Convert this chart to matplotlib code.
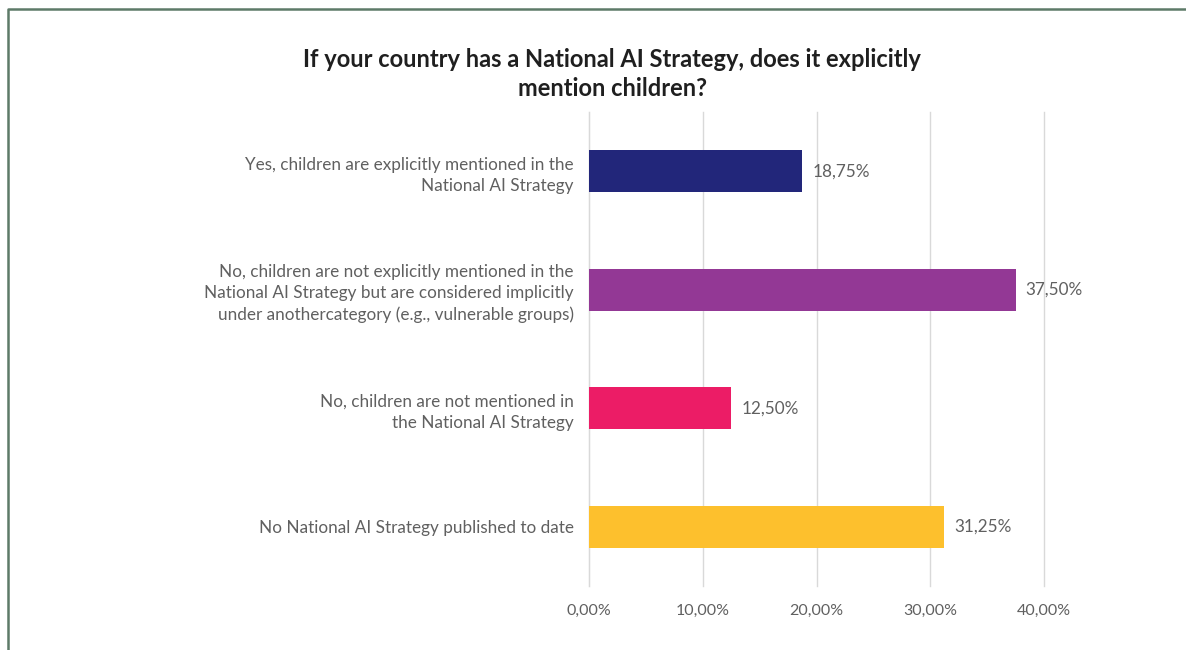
import matplotlib
matplotlib.use("Agg")
import matplotlib.pyplot as plt
from matplotlib.lines import Line2D

categories = [
    "Yes, children are explicitly mentioned in the\nNational AI Strategy",
    "No, children are not explicitly mentioned in the\nNational AI Strategy but are considered implicitly\nunder anothercategory (e.g., vulnerable groups)",
    "No, children are not mentioned in\nthe National AI Strategy",
    "No National AI Strategy published to date",
]
values = [18.75, 37.50, 12.50, 31.25]
colors = ["#22267a", "#933895", "#ec1c66", "#fdc02d"]
xticks = [0, 10, 20, 30, 40]
title = "If your country has a National AI Strategy, does it explicitly\nmention children?"

plt.rcParams["font.family"] = ["Lato", "DejaVu Sans"]

fig = plt.figure(figsize=(11.86, 6.5), dpi=100)
ax = fig.add_axes([589 / 1186, 1 - 586 / 650, (1044 - 589) / 1186, (586 - 112) / 650])

ypos = list(range(len(categories)))
ax.barh(ypos, values, height=0.355, color=colors, zorder=3)
for y, v in zip(ypos, values):
    ax.text(v + 0.9, y, f"{v:.2f}%".replace(".", ","), va="center", ha="left",
            fontsize=12.3, color="#606060")

ax.set_ylim(3.5, -0.5)
ax.set_xlim(0, 40)
ax.set_yticks(ypos)
ax.set_yticklabels(categories, fontsize=12.3, color="#606060", linespacing=1.38)
ax.set_xticks(xticks)
ax.set_xticklabels([f"{t:.2f}%".replace(".", ",") for t in xticks], fontsize=11.5, color="#606060")
ax.tick_params(axis="both", length=0)
ax.tick_params(axis="x", pad=13)
ax.tick_params(axis="y", pad=11)
ax.grid(axis="x", color="#d9d9d9", linewidth=1, zorder=0)
for s in ["top", "right", "bottom"]:
    ax.spines[s].set_visible(False)
ax.spines["left"].set_color("#d9d9d9")
for gl in ax.get_xgridlines():
    gl.set_clip_on(False)

fig.text(612 / 1186, 1 - 74 / 650, title, ha="center", va="center", fontsize=17,
         fontweight="bold", color="#1f1f1f", linespacing=1.3)

# frame along the left and top edges
fig.add_artist(Line2D([7.5 / 1186, 7.5 / 1186, 1.0], [0.0, 1 - 8.5 / 650, 1 - 8.5 / 650],
                      transform=fig.transFigure, color="#5d7a68", linewidth=1.8))

fig.savefig("out.png", dpi=100)
